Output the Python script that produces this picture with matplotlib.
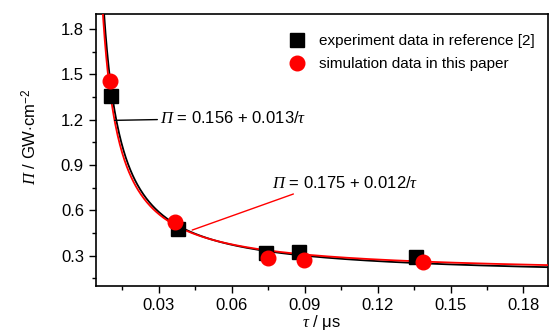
import numpy as np
import matplotlib
matplotlib.use("Agg")
import matplotlib.pyplot as plt
from matplotlib.ticker import MultipleLocator

plt.rcParams['font.family'] = ['Liberation Sans', 'DejaVu Sans']
plt.rcParams['mathtext.fontset'] = 'custom'
plt.rcParams['mathtext.rm'] = 'Liberation Sans'
plt.rcParams['mathtext.it'] = 'Liberation Serif:italic'
plt.rcParams['mathtext.sf'] = 'Liberation Serif:italic'

# experiment data (reference [2])
exp_tau = [0.0105, 0.0378, 0.0741, 0.0877, 0.1357]
exp_pi = [1.36, 0.48, 0.315, 0.322, 0.293]
# simulation data
sim_tau = [0.0100, 0.0368, 0.0750, 0.0898, 0.1387]
sim_pi = [1.455, 0.525, 0.285, 0.272, 0.256]
# fit coefficients: Pi = a + b/tau
fit_exp = (0.156, 0.013)
fit_sim = (0.175, 0.012)

fig = plt.figure(figsize=(5.5, 3.32), dpi=100)
ax = fig.add_axes([0.174, 0.1386, 0.822, 0.8194])

tau = np.linspace(0.004, 0.19, 600)
ax.plot(tau, fit_exp[0] + fit_exp[1] / tau, color='black', lw=1.3, zorder=2)
ax.plot(tau, fit_sim[0] + fit_sim[1] / tau, color='red', lw=1.3, zorder=3)

ax.plot(exp_tau, exp_pi, 's', color='black', ms=9.5, zorder=4,
        label='experiment data in reference [2]')
ax.plot(sim_tau, sim_pi, 'o', color='red', ms=10.5, zorder=5,
        label='simulation data in this paper')

ax.set_xlim(0.004, 0.19)
ax.set_ylim(0.1, 1.9)
ax.xaxis.set_major_locator(MultipleLocator(0.03))
ax.xaxis.set_minor_locator(MultipleLocator(0.015))
ax.yaxis.set_major_locator(MultipleLocator(0.3))
ax.yaxis.set_minor_locator(MultipleLocator(0.15))
ax.xaxis.set_major_formatter(plt.FuncFormatter(lambda v, p: f"{v:.2f}"))
ax.yaxis.set_major_formatter(plt.FuncFormatter(lambda v, p: f"{v:.1f}"))
ax.tick_params(which='major', direction='out', length=5, width=1, labelsize=12)
ax.tick_params(which='minor', direction='out', length=3, width=1)
for s in ax.spines.values():
    s.set_linewidth(1.2)

PI = r'$\mathsf{Π}$'
ax.set_ylabel(PI + r' / GW$\cdot$cm$^{-2}$', fontsize=12)
ax.yaxis.set_label_coords(-0.125, 0.55)
ax.set_xlabel(r'$\tau$ / $\mathrm{\mu}$s', fontsize=12, labelpad=0)

ax.legend(loc='upper right', bbox_to_anchor=(0.995, 0.965), frameon=False,
          fontsize=11, handletextpad=0.7, borderaxespad=0.3, labelspacing=0.6,
          handlelength=1.5)

ax.annotate(PI + r' = 0.156 + 0.013/$\tau$', xy=(0.0118, 1.196),
            xytext=(0.0305, 1.21), fontsize=12, va='center', ha='left',
            arrowprops=dict(arrowstyle='-', color='black', lw=1, shrinkA=0, shrinkB=0))
ax.annotate(PI + r' = 0.175 + 0.012/$\tau$', xy=(0.0437, 0.47),
            xytext=(0.0765, 0.78), fontsize=12, va='center', ha='left',
            arrowprops=dict(arrowstyle='-', color='red', lw=1, shrinkA=0, shrinkB=0,
                            relpos=(0.2, 0)))

fig.savefig('out.png', dpi=100)
